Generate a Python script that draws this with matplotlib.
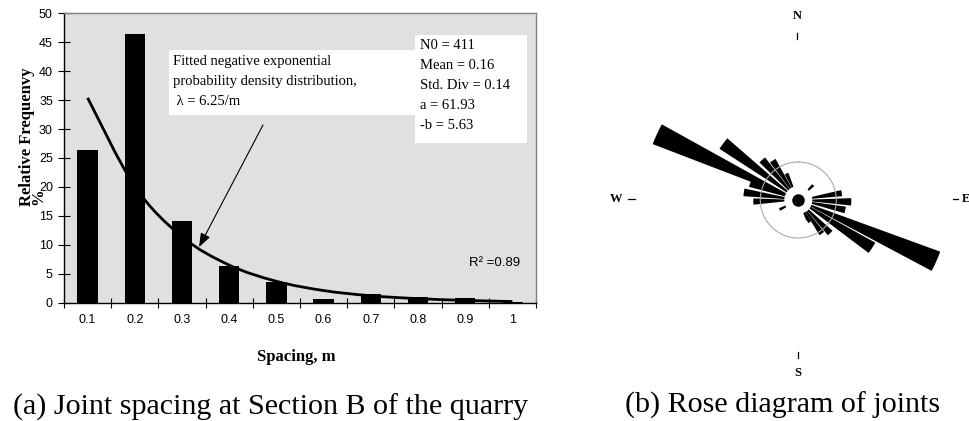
import numpy as np
import matplotlib
matplotlib.use('Agg')
import matplotlib.pyplot as plt
from matplotlib.patches import Rectangle, PathPatch
from matplotlib.path import Path
from matplotlib.lines import Line2D

# joint spacing histogram (section B)
spacing = ['0.1', '0.2', '0.3', '0.4', '0.5', '0.6', '0.7', '0.8', '0.9', '1']
rel_freq = [26.3, 46.5, 14.1, 6.4, 3.6, 0.6, 1.5, 0.9, 0.8, 0.2]
fitted = [35.4, 20.1, 11.4, 6.5, 3.7, 2.1, 1.2, 0.7, 0.4, 0.2]
stats_lines = ['N0 = 411', 'Mean = 0.16', 'Std. Div = 0.14', 'a = 61.93', '-b = 5.63']
fit_lines = ['Fitted negative exponential', 'probability density distribution,',
             u' \u03bb = 6.25/m']

# rose diagram petals: bearing (deg from N, clockwise) and length (px)
rose_bearing = [268, 278, 289, 295, 307, 318, 327, 336,
                81, 92, 102, 114, 123, 136, 145, 153,
                45, 243, 155]
rose_length = [45, 55, 51, 156, 94, 54, 47, 29,
               44, 53, 48, 151, 88, 46, 41, 25,
               21, 21, 22]

W, H = 970, 421
serif = 'Liberation Serif'
sans = 'Liberation Sans'

fig = plt.figure(figsize=(W/100., H/100.), dpi=100)
fig.patch.set_facecolor('white')

def fx(px):
    return px/float(W)

def fy(py):
    return 1 - py/float(H)

def smooth_path(xs, ys):
    # excel-like smoothed line: cubic bezier through the points
    p = np.column_stack([xs, ys]).astype(float)
    ext = np.vstack([p[0], p, p[-1]])
    verts = [p[0]]
    codes = [Path.MOVETO]
    for i in range(len(p)-1):
        a, b, c, d = ext[i], ext[i+1], ext[i+2], ext[i+3]
        verts += [b + (c-a)/6., c - (d-b)/6., c]
        codes += [Path.CURVE4]*3
    return Path(verts, codes)

# ---- left chart
L, R, T, B = 64, 536, 13.3, 302.7
ax1 = fig.add_axes([fx(L), fy(B), fx(R)-fx(L), fy(T)-fy(B)])
ax1.set_facecolor('#e0e0e0')

def ax_xy(px, py):
    return ((px-L)/(R-L), (B-py)/(B-T))

x = np.arange(len(spacing))
ax1.bar(x, rel_freq, width=0.435, color='black', zorder=3)
ax1.add_patch(PathPatch(smooth_path(x, fitted), facecolor='none',
                        edgecolor='black', lw=2.0, zorder=4))

ax1.set_xlim(-0.5, len(spacing)-0.5)
ax1.set_ylim(0, 50)
ax1.set_yticks(np.arange(0, 51, 5))
ax1.set_xticks(np.arange(-0.5, len(spacing)), labels=[])
ax1.set_xticks(x, minor=True)
ax1.set_xticklabels(spacing, minor=True, fontfamily=sans, fontsize=9)
for lab in ax1.get_yticklabels():
    lab.set_fontfamily(sans)
    lab.set_fontsize(9)
ax1.tick_params(axis='x', which='major', direction='inout', length=7, width=0.8)
ax1.tick_params(axis='x', which='minor', length=0, pad=8)
ax1.tick_params(axis='y', which='major', direction='inout', length=8, width=0.8, pad=4)

for s in ['left', 'bottom']:
    ax1.spines[s].set_color('black')
    ax1.spines[s].set_linewidth(1.0)
for s in ['top', 'right']:
    ax1.spines[s].set_color('#808080')
    ax1.spines[s].set_linewidth(1.0)

# white boxes
x0, y0 = ax_xy(169, 115)
x1, y1 = ax_xy(415, 50)
ax1.add_patch(Rectangle((x0, y0), x1-x0, y1-y0, transform=ax1.transAxes,
                        facecolor='white', edgecolor='none', zorder=2))
x0, y0 = ax_xy(415, 143)
x1, y1 = ax_xy(527, 35)
ax1.add_patch(Rectangle((x0, y0), x1-x0, y1-y0, transform=ax1.transAxes,
                        facecolor='white', edgecolor='none', zorder=2))

for i, t in enumerate(fit_lines):
    ax1.text(*ax_xy(173, 61.7 + 20*i), t, transform=ax1.transAxes, family=serif,
             fontsize=10.5, ha='left', va='center', zorder=5)
for i, t in enumerate(stats_lines):
    ax1.text(*ax_xy(420, 45.7 + 20*i), t, transform=ax1.transAxes, family=serif,
             fontsize=10.5, ha='left', va='center', zorder=5)

ax1.text(*ax_xy(469, 262.7), u'R\u00b2 =0.89', transform=ax1.transAxes, family=sans,
         fontsize=9.5, ha='left', va='center', zorder=5)

ax1.annotate('', xy=(2.36, 9.6), xycoords='data',
             xytext=ax_xy(263, 125), textcoords='axes fraction',
             arrowprops=dict(arrowstyle='-|>,head_length=0.6,head_width=0.22',
                             color='black', lw=0.8, mutation_scale=14,
                             shrinkA=0, shrinkB=0), zorder=6)

fig.text(fx(27), fy(137), 'Relative Frequenvy', rotation=90, family=serif,
         fontweight='bold', fontsize=12, ha='center', va='center')
fig.text(fx(38), fy(197), '%', rotation=90, family=serif,
         fontweight='bold', fontsize=12, ha='center', va='center')
fig.text(fx(296), fy(357), 'Spacing, m', family=serif, fontweight='bold',
         fontsize=12, ha='center', va='center')
fig.text(fx(13), fy(407), '(a) Joint spacing at Section B of the quarry',
         family=serif, fontsize=21.6, ha='left', va='center')

# ---- rose diagram
cx, cy, rad = 798.3, 200, 180
ax2 = fig.add_axes([fx(cx-rad), fy(cy+rad), 2*rad/float(W), 2*rad/float(H)],
                   projection='polar')
ax2.set_theta_zero_location('N')
ax2.set_theta_direction(-1)
ax2.set_ylim(0, rad)
ax2.axis('off')

inner = 14
ax2.bar(np.radians(rose_bearing), np.array(rose_length) - inner, bottom=inner,
        width=np.radians(8), color='black', edgecolor='none')
th = np.linspace(0, 2*np.pi, 200)
ax2.plot(th, np.full_like(th, 38), color='#aaaaaa', lw=0.8)
ax2.plot([0], [0], 'o', color='black', ms=8)

# compass labels and ticks
def fig_line(xs, ys):
    fig.add_artist(Line2D([fx(v) for v in xs], [fy(v) for v in ys],
                          color='black', lw=0.9))

fig.text(fx(797), fy(16), 'N', family=serif, fontweight='bold', fontsize=9,
         ha='center', va='center')
fig_line([797, 797], [33, 39])
fig.text(fx(798), fy(372.7), 'S', family=serif, fontweight='bold', fontsize=9,
         ha='center', va='center')
fig_line([798, 798], [352, 358])
fig.text(fx(616), fy(199), 'W', family=serif, fontweight='bold', fontsize=9,
         ha='center', va='center')
fig_line([628, 635], [199, 199])
fig.text(fx(962), fy(199), 'E', family=serif, fontweight='bold', fontsize=9,
         ha='left', va='center')
fig_line([953, 958], [199, 199])

fig.text(fx(625), fy(405), '(b) Rose diagram of joints', family=serif,
         fontsize=21.6, ha='left', va='center')

fig.savefig('out.png', dpi=100)
